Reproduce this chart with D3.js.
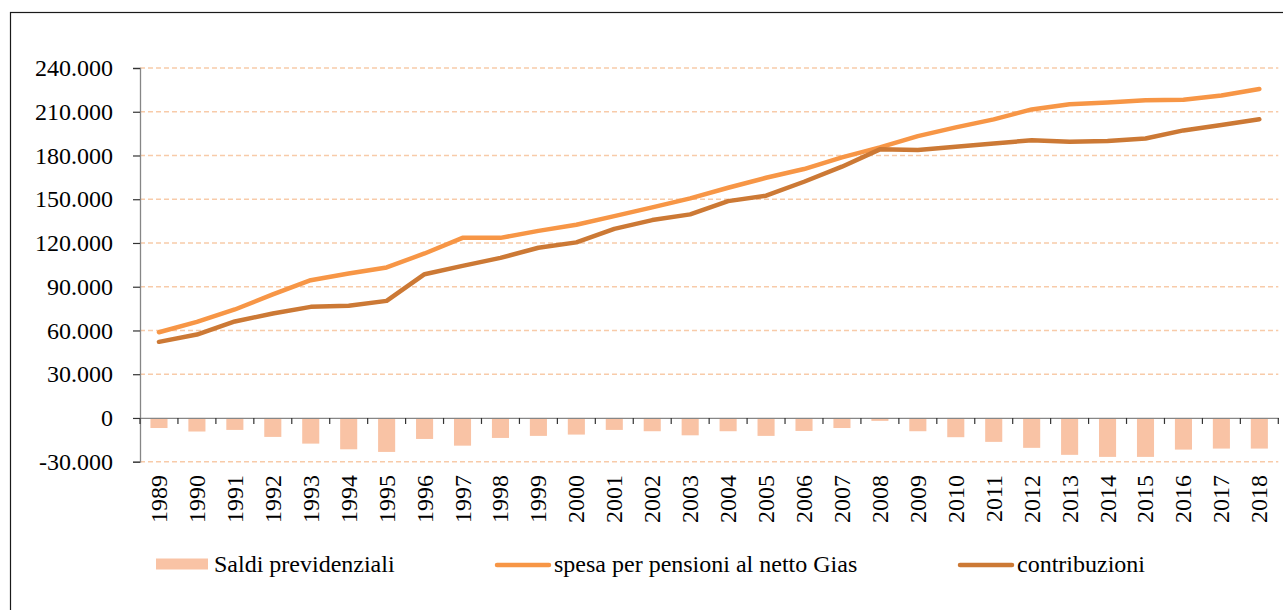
<!DOCTYPE html>
<html>
<head>
<meta charset="utf-8">
<script src="https://cdn.jsdelivr.net/npm/d3@7"></script>
<style>
  html, body { margin: 0; padding: 0; background: #fff; }
  svg { display: block; font-family: "Liberation Serif", "Times New Roman", serif; }
</style>
</head>
<body>
<svg id="chart" width="1283" height="610"></svg>
<script>
const years = [1989,1990,1991,1992,1993,1994,1995,1996,1997,1998,1999,2000,2001,2002,2003,2004,2005,2006,2007,2008,2009,2010,2011,2012,2013,2014,2015,2016,2017,2018];
const saldi = [-6900,-9300,-8200,-13000,-17600,-21500,-23300,-14400,-19000,-13700,-12300,-11400,-8200,-9100,-11900,-9100,-12300,-8900,-6900,-2000,-9100,-13200,-16400,-20500,-25300,-26700,-26700,-21700,-21000,-21000];
const spesa = [58800,65900,74400,84700,94500,99100,103200,112800,123500,123500,128300,132500,138400,144400,150600,157900,164700,170700,178700,185600,193300,199300,204800,211600,215100,216400,217800,218300,221200,225600];
const contributi = [52200,57200,66200,71600,76200,76900,80300,98600,104300,109800,116700,120400,129700,135700,139600,148700,152400,162000,172300,184200,183700,186000,188300,190400,189400,189900,191700,197200,200900,204800];
const yTicks = [-30000,0,30000,60000,90000,120000,150000,180000,210000,240000];
const legendLabels = ["Saldi previdenziali","spesa per pensioni al netto Gias","contribuzioni"];

const colBar = "#F9C3A5", colSpesa = "#F79646", colContr = "#CC7935", colGrid = "#F8CBA9", colAxis = "#868686";

const locale = d3.formatLocale({decimal: ",", thousands: ".", grouping: [3], currency: ["€", ""], minus: "-"});
const fmt = locale.format(",d");

const svg = d3.select("#chart");
const plotLeft = 140, plotRight = 1278.3, plotTop = 68, plotBottom = 461.7;

const x = d3.scaleBand().domain(years).range([plotLeft, plotRight]).padding(0);
const y = d3.scaleLinear().domain([-30000, 240000]).range([plotBottom, plotTop]);

// frame
svg.append("rect").attr("x", 10.5).attr("y", 12.5).attr("width", 1290).attr("height", 620)
  .attr("fill", "none").attr("stroke", "#1a1a1a").attr("stroke-width", 1.2);

// gridlines
svg.append("g").selectAll("line").data(yTicks.filter(d => d !== 0)).join("line")
  .attr("x1", plotLeft).attr("x2", plotRight)
  .attr("y1", d => y(d)).attr("y2", d => y(d))
  .attr("stroke", colGrid).attr("stroke-width", 1.5).attr("stroke-dasharray", "5,3");

// bars
const bw = x.bandwidth() * 0.45;
svg.append("g").selectAll("rect").data(years).join("rect")
  .attr("x", d => x(d) + (x.bandwidth() - bw) / 2)
  .attr("width", bw)
  .attr("y", (d, i) => Math.min(y(0), y(saldi[i])))
  .attr("height", (d, i) => Math.abs(y(saldi[i]) - y(0)))
  .attr("fill", colBar);

// y axis
const yAxis = svg.append("g").attr("transform", `translate(${plotLeft},0)`)
  .call(d3.axisLeft(y).tickValues(yTicks).tickFormat(fmt).tickSize(7).tickPadding(20));
yAxis.select(".domain").attr("stroke", colAxis).attr("stroke-width", 1.3);
yAxis.selectAll(".tick line").attr("stroke", "#333").attr("stroke-width", 1.2);
yAxis.selectAll("text").attr("font-size", 24).attr("fill", "#000")
  .attr("font-family", "Liberation Serif, Times New Roman, serif");

// x axis at zero
const xAxis = svg.append("g").attr("transform", `translate(0,${y(0)})`)
  .call(d3.axisBottom(x).tickSize(0).tickFormat(""));
xAxis.select(".domain").attr("stroke", colAxis).attr("stroke-width", 1.3);
const bounds = years.map(d => x(d)).concat([plotRight]);
xAxis.append("g").selectAll("line").data(bounds).join("line")
  .attr("x1", d => d).attr("x2", d => d).attr("y1", 0).attr("y2", 6)
  .attr("stroke", "#333").attr("stroke-width", 1.2);

// year labels (low position)
svg.append("g").selectAll("text").data(years).join("text")
  .attr("transform", d => `translate(${x(d) + x.bandwidth() / 2 + 8},475) rotate(-90)`)
  .attr("text-anchor", "end")
  .attr("font-size", 24).attr("fill", "#000")
  .text(d => d);

// lines
const line = arr => d3.line().x((d, i) => x(years[i]) + x.bandwidth() / 2).y(d => y(d))(arr);
svg.append("path").attr("d", line(spesa)).attr("fill", "none")
  .attr("stroke", colSpesa).attr("stroke-width", 4.5).attr("stroke-linecap", "round").attr("stroke-linejoin", "round");
svg.append("path").attr("d", line(contributi)).attr("fill", "none")
  .attr("stroke", colContr).attr("stroke-width", 4.5).attr("stroke-linecap", "round").attr("stroke-linejoin", "round");

// legend
const lg = svg.append("g");
lg.append("rect").attr("x", 156).attr("y", 558.5).attr("width", 52).attr("height", 11).attr("fill", colBar);
lg.append("text").attr("x", 214).attr("y", 572).attr("font-size", 24).text(legendLabels[0]);
lg.append("line").attr("x1", 497).attr("x2", 549).attr("y1", 565).attr("y2", 565)
  .attr("stroke", colSpesa).attr("stroke-width", 4.5).attr("stroke-linecap", "round");
lg.append("text").attr("x", 554).attr("y", 572).attr("font-size", 24).text(legendLabels[1]);
lg.append("line").attr("x1", 960).attr("x2", 1012).attr("y1", 565).attr("y2", 565)
  .attr("stroke", colContr).attr("stroke-width", 4.5).attr("stroke-linecap", "round");
lg.append("text").attr("x", 1017).attr("y", 572).attr("font-size", 24).text(legendLabels[2]);
</script>
</body>
</html>
